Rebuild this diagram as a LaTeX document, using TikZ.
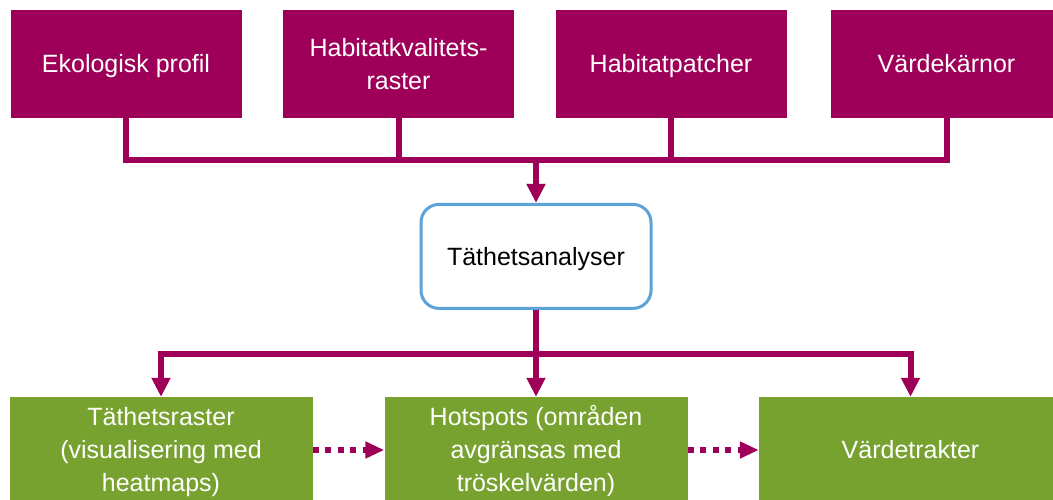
\documentclass[tikz,border=0pt]{standalone}
\usepackage{fontspec}
\setmainfont{Liberation Sans}
\usetikzlibrary{arrows.meta}

\definecolor{plum}{RGB}{158,0,89}
\definecolor{leaf}{RGB}{120,162,47}
\definecolor{sky}{RGB}{91,163,216}

% fixes the height of the first line of a multi-line label
\newcommand\tallstrut{\rule{0pt}{22pt}}

\tikzset{
  base/.style={inner sep=0pt, align=center, font=\fontsize{25}{33}\selectfont},
  oneline/.style={text height=17.5pt, text depth=0pt},
  inbox/.style={base, fill=plum, text=white, minimum width=231pt, minimum height=108pt},
  hub/.style={base, draw=sky, line width=3pt, fill=white, text=black, rounded corners=18pt,
    minimum width=230pt, minimum height=104pt},
  outbox/.style={base, fill=leaf, text=white, minimum width=303pt, minimum height=106pt},
  conn/.style={draw=plum, line width=6pt, line join=miter},
  head/.style={-{Triangle[width=18pt,length=19pt]}},
  dotconn/.style={draw=plum, line width=6.5pt, dash pattern=on 6pt off 6.5pt,
    -{Triangle[width=16pt,length=19pt]}}
}

\begin{document}
\begin{tikzpicture}[x=1pt,y=-1pt]
  \useasboundingbox (0,0) rectangle (1053,500);
  \clip (0,0) rectangle (1053,500);

  % input layers
  \node[inbox,oneline] (prof) at (126,64)   {Ekologisk profil};
  \node[inbox] (kval) at (398.5,64) {Habitatkvalitets-\\raster};
  \node[inbox,oneline] (patch) at (671,64)  {Habitatpatcher};
  \node[inbox,oneline] (karn) at (946.5,64) {Värdekärnor};

  % analysis step
  \node[hub,oneline] (tat) at (536,256.4) {Täthetsanalyser};

  % results
  \node[outbox] (rast) at (161,450)   {\tallstrut Täthetsraster\\(visualisering med\\heatmaps)};
  \node[outbox] (hot)  at (536,450)   {\tallstrut Hotspots (områden\\avgränsas med\\tröskelvärden)};
  \node[outbox,oneline] (trakt) at (910.5,450) {Värdetrakter};

  % collecting bus above the analysis box
  \coordinate (busin) at (0,160);
  \draw[conn] (prof.south) |- (karn.south |- busin) -- (karn.south);
  \draw[conn] (kval.south) -- (kval.south |- busin);
  \draw[conn] (patch.south) -- (patch.south |- busin);
  \draw[conn,head] (tat.north |- busin) -- (tat.north);

  % distributing bus below the analysis box
  \coordinate (busout) at (0,353.5);
  \draw[conn,{Triangle[width=18pt,length=19pt]}-{Triangle[width=18pt,length=19pt]}]
    (rast.north) |- (trakt.north |- busout) -- (trakt.north);
  \draw[conn,head] (tat.south) -- (hot.north);

  % sequence between results
  \draw[dotconn] (rast.east) -- (hot.west);
  \draw[dotconn] (hot.east) -- (trakt.west);
\end{tikzpicture}
\end{document}
